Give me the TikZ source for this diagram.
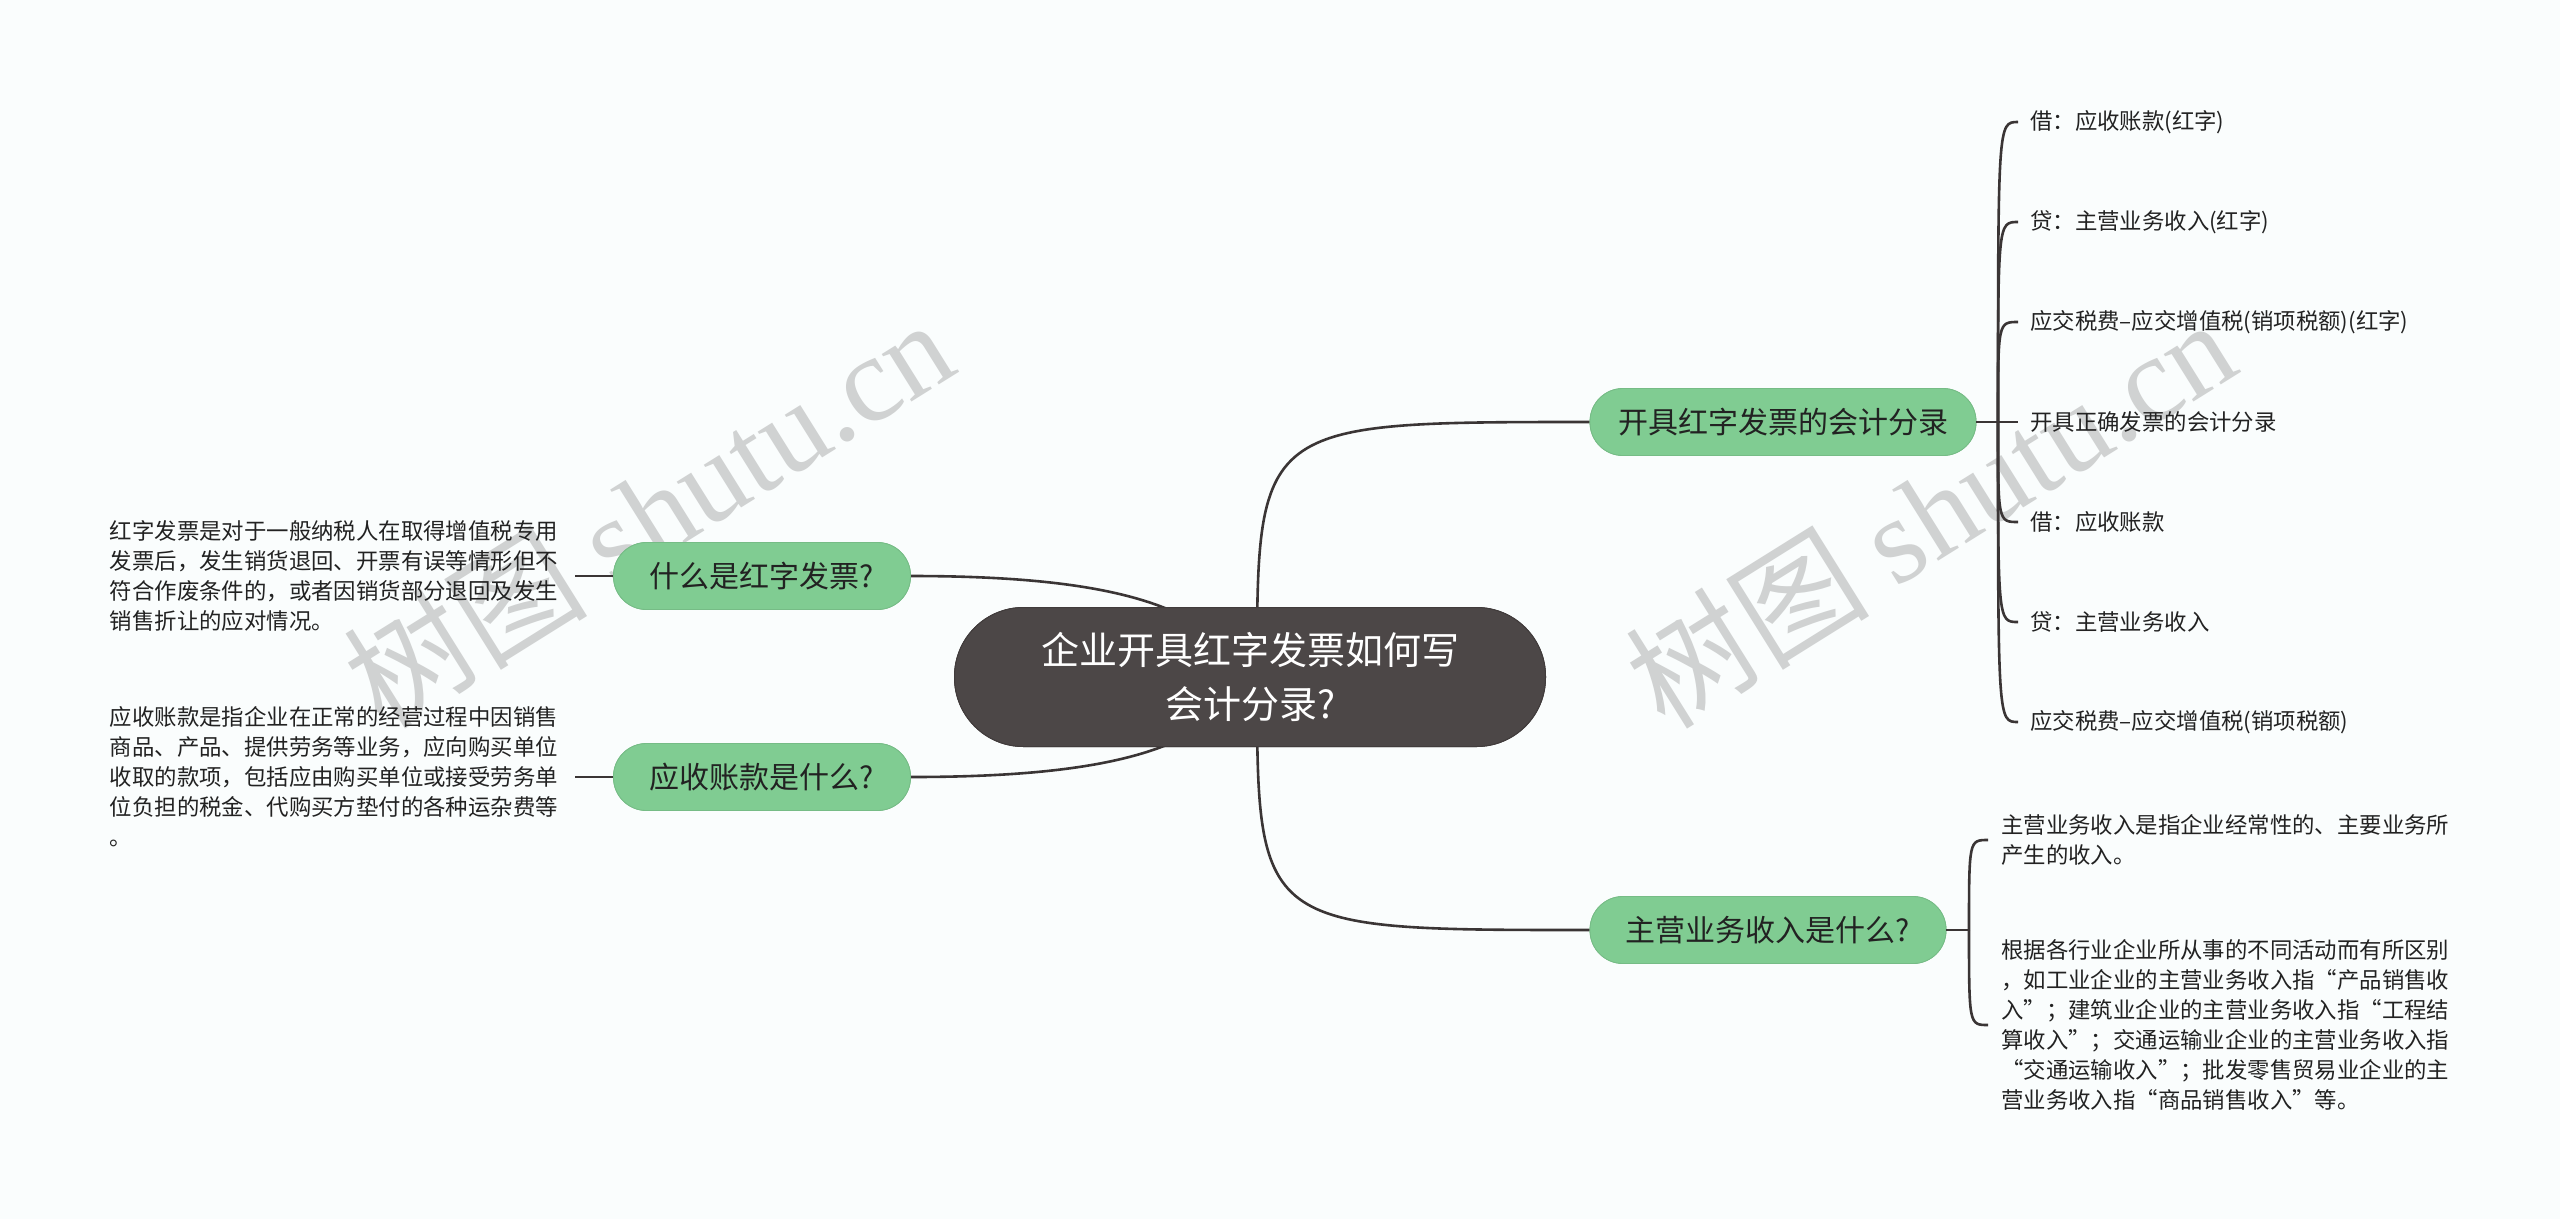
\documentclass[tikz,border=0pt]{standalone}
\usepackage{fontspec}
\setmainfont{Noto Sans CJK SC}
\newfontfamily\wmserif{Liberation Serif}
\definecolor{bgc}{HTML}{FAFDFD}
\definecolor{cdark}{HTML}{4C4747}
\definecolor{cgreen}{HTML}{80CC92}
\definecolor{ctext}{HTML}{222222}
\definecolor{cline}{HTML}{3A3535}
\definecolor{wmc}{HTML}{D0D2D2}
\begin{document}
\begin{tikzpicture}[x=1pt,y=-1pt,
  central/.style={fill=cdark, draw=cdark!85!black, line width=1pt, rounded corners=69pt,
    minimum width=591pt, minimum height=139pt, text=white,
    font=\fontsize{38}{54}\selectfont, align=center, inner sep=0pt},
  branch/.style={fill=cgreen, draw=cgreen!92!black, line width=0.8pt, rounded corners=33pt,
    minimum height=67pt, text=ctext, font=\fontsize{30}{36}\selectfont, inner sep=0pt},
  leaf/.style={text=ctext, font=\fontsize{22.4}{30}\selectfont, align=left, inner ysep=0pt},
  conn/.style={draw=cline, line width=2.6pt},
  brk/.style={draw=cline, line width=2.6pt},
  wm/.style={text=wmc, font=\fontsize{122}{126}\selectfont, inner sep=0pt}
]
\useasboundingbox (0,0) rectangle (2560,1219);
\fill[bgc] (0,0) rectangle (2560,1219);

% watermarks
\node[wm, rotate=32] (w1) at (648,512) {树图 {\wmserif shutu.cn}};
\node[wm, rotate=32] (w2) at (1930,512) {树图 {\wmserif shutu.cn}};

% named points for connectors
\coordinate (cR) at (1257,677);
\coordinate (kjJ) at (1998,422);
\coordinate (zyJ) at (1969,930);

% main nodes (placed first to have their anchors)
\path (1250,677) node[central] (c) {企业开具红字发票如何写\\会计分录?};
\path (1783,422) node[branch, minimum width=386pt] (kj) {开具红字发票的会计分录};
\path (1768,930) node[branch, minimum width=356pt] (zy) {主营业务收入是什么?};
\path (762,576) node[branch, minimum width=297pt] (sm) {什么是红字发票?};
\path (762,777) node[branch, minimum width=297pt] (ys) {应收账款是什么?};

% connectors from the centre
\draw[conn] (kj.west) .. controls (cR |- kj.west) .. (cR);
\draw[conn] (zy.west) .. controls (cR |- zy.west) .. (cR);
\draw[conn] (sm.east) .. controls (1120,576) and (1210,608) .. (c.center);
\draw[conn] (ys.east) .. controls (1120,777) and (1210,746) .. (c.center);

% nodes drawn again on top of the connectors
\node[central] at (c) {企业开具红字发票如何写\\会计分录?};
\node[branch, minimum width=386pt] at (kj) {开具红字发票的会计分录};
\node[branch, minimum width=356pt] at (zy) {主营业务收入是什么?};
\node[branch, minimum width=297pt] at (sm) {什么是红字发票?};
\node[branch, minimum width=297pt] at (ys) {应收账款是什么?};

% left leaves
\node[leaf, inner xsep=17pt, anchor=east] (t1) at (575,576)
  {红字发票是对于一般纳税人在取得增值税专用\\发票后，发生销货退回、开票有误等情形但不\\符合作废条件的，或者因销货部分退回及发生\\销售折让的应对情况。};
\node[leaf, inner xsep=17pt, anchor=east] (t2) at (575,777)
  {应收账款是指企业在正常的经营过程中因销售\\商品、产品、提供劳务等业务，应向购买单位\\收取的款项，包括应由购买单位或接受劳务单\\位负担的税金、代购买方垫付的各种运杂费等\\。};

% right items
\node[leaf, inner xsep=12pt, anchor=west] (i1) at (2018,122) {借：应收账款(红字)};
\node[leaf, inner xsep=12pt, anchor=west] (i2) at (2018,222) {贷：主营业务收入(红字)};
\node[leaf, inner xsep=12pt, anchor=west] (i3) at (2018,322) {应交税费–应交增值税(销项税额)(红字)};
\node[leaf, inner xsep=12pt, anchor=west] (i4) at (2018,422) {开具正确发票的会计分录};
\node[leaf, inner xsep=12pt, anchor=west] (i5) at (2018,522) {借：应收账款};
\node[leaf, inner xsep=12pt, anchor=west] (i6) at (2018,622) {贷：主营业务收入};
\node[leaf, inner xsep=12pt, anchor=west] (i7) at (2018,722) {应交税费–应交增值税(销项税额)};

\node[leaf, inner xsep=13pt, anchor=west] (z1) at (1988,840)
  {主营业务收入是指企业经常性的、主要业务所\\产生的收入。};
\node[leaf, inner xsep=13pt, anchor=west] (z2) at (1988,1025)
  {根据各行业企业所从事的不同活动而有所区别\\，如工业企业的主营业务收入指“产品销售收\\入”；建筑业企业的主营业务收入指“工程结\\算收入”；交通运输业企业的主营业务收入指\\“交通运输收入”；批发零售贸易业企业的主\\营业务收入指“商品销售收入”等。};

\draw[brk] (t1.east) -- (sm.west);
\draw[brk] (t2.east) -- (ys.west);

\draw[brk] (kj.east) -- (i4.west);
\foreach \n in {i1,i2,i3,i5,i6,i7}
  \draw[brk] (kjJ) .. controls (kjJ |- \n.west) .. (\n.west);

\draw[brk] (zy.east) -- (zyJ);
\draw[brk] (zyJ) .. controls (zyJ |- z1.west) .. (z1.west);
\draw[brk] (zyJ) .. controls (zyJ |- z2.west) .. (z2.west);
\end{tikzpicture}
\end{document}
